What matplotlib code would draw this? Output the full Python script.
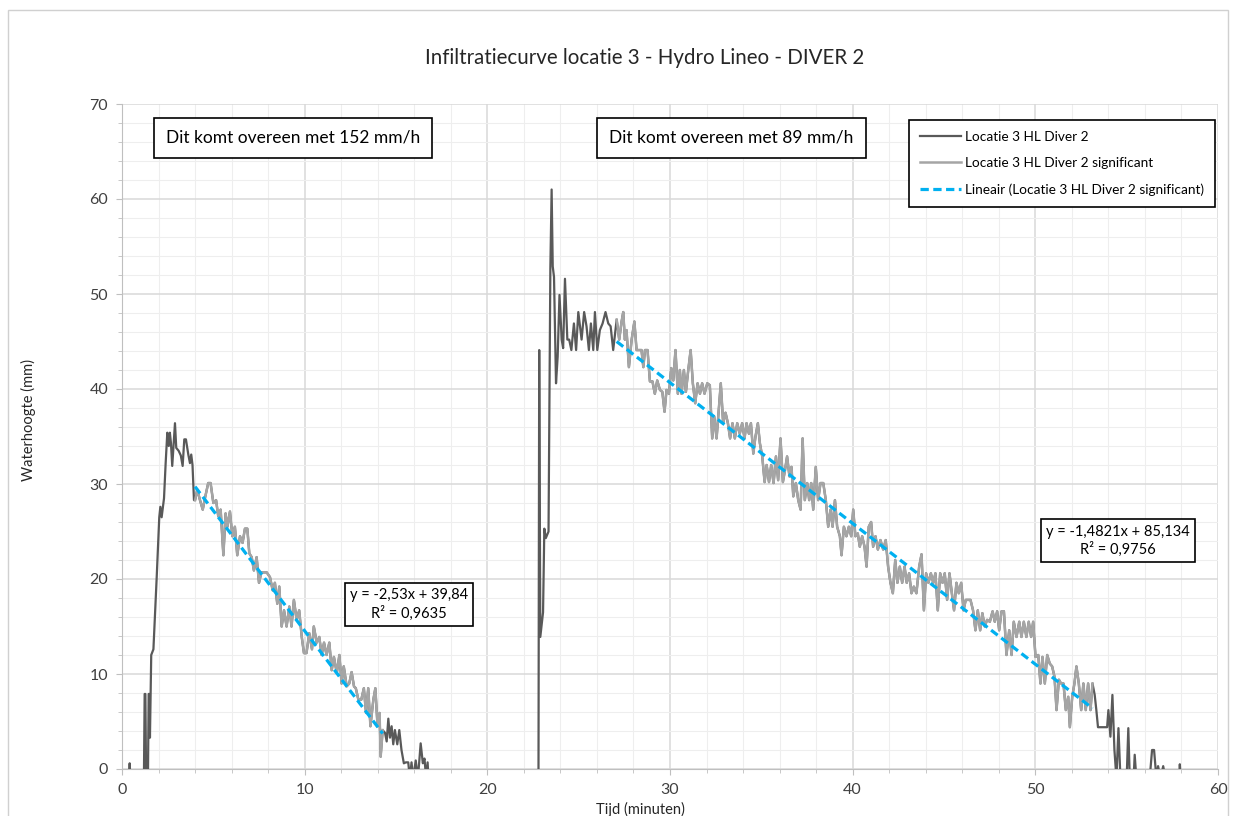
import numpy as np
import matplotlib
matplotlib.use("Agg")
import matplotlib.pyplot as plt
import matplotlib.patches as mpatches
from matplotlib.ticker import MultipleLocator

plt.rcParams["font.family"] = ["Lato", "DejaVu Sans"]

# ── Data ──────────────────────────────────────────────────────
# values below the axis (-1) are clipped, just like in the original chart
# first event: rise before the "significant" part
rise1_x = [0.0, 0.38, 0.42, 0.46, 1.2, 1.24, 1.28, 1.32, 1.42, 1.46, 1.5, 1.53, 1.6, 1.72, 1.9,
           2.04, 2.1, 2.17, 2.3, 2.39, 2.48, 2.56, 2.62, 2.68, 2.75, 2.9, 2.97, 3.1, 3.22, 3.32,
           3.41, 3.5, 3.63, 3.72, 3.79, 3.86, 3.94]
rise1_y = [-1.0, -1.0, 0.6, -1.0, -1.0, 7.9, 7.9, -1.0, -1.0, 7.9, 7.9, 3.3, 12.0, 12.6, 20.2,
           26.5, 27.6, 26.5, 28.5, 32.2, 35.4, 34.0, 35.4, 34.3, 31.9, 36.4, 33.8, 33.5, 33.0, 31.9,
           34.7, 34.7, 33.1, 32.2, 33.1, 32.0, 28.3]

sig1_x = [4.0, 4.12, 4.27, 4.42, 4.54, 4.72, 4.85, 5.0, 5.15, 5.27, 5.4, 5.55, 5.67, 5.77, 5.91,
          6.04, 6.18, 6.31, 6.46, 6.6, 6.73, 6.86, 6.97, 7.1, 7.22, 7.37, 7.5, 7.63, 7.92, 8.1,
          8.25, 8.37, 8.5, 8.61, 8.74, 8.87, 9.01, 9.16, 9.28, 9.41, 9.56, 9.7, 9.84, 9.96, 10.1,
          10.25, 10.4, 10.5, 10.66, 10.8, 10.93, 11.06, 11.2, 11.35, 11.48, 11.6, 11.76, 11.9,
          12.02, 12.14, 12.3, 12.44, 12.57, 12.7, 12.8, 12.94, 13.1, 13.24, 13.36, 13.48, 13.6,
          13.76, 13.87, 13.99, 14.1, 14.16, 14.27]
sig1_y = [28.3, 29.4, 28.3, 27.3, 28.5, 30.1, 30.1, 28.0, 28.3, 26.6, 27.3, 22.5, 26.9, 25.5, 27.1,
          24.5, 25.5, 22.5, 24.5, 23.8, 25.3, 25.3, 22.7, 22.3, 20.9, 22.3, 19.6, 20.7, 20.7, 20.2,
          18.8, 19.6, 17.4, 19.2, 15.0, 16.7, 15.0, 17.1, 15.0, 17.8, 15.7, 16.7, 13.9, 12.2, 12.2,
          14.3, 12.6, 15.0, 13.3, 13.9, 12.0, 13.3, 12.0, 13.3, 10.4, 11.8, 10.1, 12.0,
          9.0, 10.8, 8.7, 9.0, 10.2, 8.7, 8.5, 7.3, 7.3, 8.5, 5.9, 8.5, 4.5,
          7.3, 8.5, 4.5, 5.9, 1.3, 4.1]

tail1_x = [14.4, 14.49, 14.58, 14.67, 14.76, 14.85, 14.94, 15.07, 15.18, 15.3, 15.43, 15.54, 15.67,
           15.76, 15.85, 15.94, 16.08, 16.2, 16.35, 16.47, 16.56, 16.65, 16.73, 16.78, 22.75]
tail1_y = [3.8, 2.9, 5.3, 3.3, 4.5, 2.6, 4.1, 2.6, 4.1, 2.0, 0.6, 0.7, 0.7,
           -1.0, 0.7, -1.0, 0.9, -1.0, 2.7, 0.6, 1.1, -1.0, 0.7, -1.0, -1.0]

# second event
rise2_x = [22.8, 22.84, 22.9, 23.05, 23.12, 23.2, 23.35, 23.45, 23.52, 23.58, 23.65, 23.76, 23.85,
           23.95, 24.07, 24.15, 24.25, 24.38, 24.48, 24.6, 24.74, 24.86, 24.98, 25.16, 25.3, 25.43,
           25.56, 25.67, 25.8, 25.89, 26.02, 26.16, 26.31, 26.47, 26.62, 26.75, 26.89]
rise2_y = [-1.0, 44.1, 13.9, 16.5, 25.3, 24.3, 25.0, 52.7, 61.0, 52.9, 51.8, 40.6, 43.4,
           49.9, 45.2, 44.3, 51.6, 45.2, 45.2, 44.1, 46.9, 44.1, 48.1, 45.2, 48.1, 46.6,
           44.1, 46.9, 44.1, 48.1, 44.1, 46.2, 46.9, 48.1, 46.9, 46.6, 44.1]

sig2_x = [27.08, 27.22, 27.35, 27.44, 27.53, 27.62, 27.75, 27.9, 28.05, 28.17, 28.32, 28.44, 28.54,
          28.63, 28.77, 28.9, 29.04, 29.17, 29.3, 29.45, 29.58, 29.7, 29.81, 29.94, 30.07, 30.18,
          30.3, 30.43, 30.54, 30.63, 30.76, 30.87, 31.0, 31.13, 31.25, 31.38, 31.51, 31.64, 31.76,
          31.89, 32.04, 32.18, 32.31, 32.42, 32.55, 32.67, 32.78, 32.91, 33.04, 33.17, 33.29, 33.42,
          33.55, 33.68, 33.82, 33.95, 34.08, 34.19, 34.32, 34.43, 34.56, 34.68, 34.81, 34.92, 35.05,
          35.18, 35.29, 35.42, 35.54, 35.67, 35.8, 35.92, 36.05, 36.18, 36.29, 36.41, 36.54,
          36.65, 36.75, 36.89, 37.02, 37.15, 37.26, 37.38, 37.51, 37.62, 37.73, 37.84, 37.98, 38.11,
          38.24, 38.39, 38.53, 38.66, 38.79, 38.9, 39.03, 39.15, 39.3, 39.39, 39.52, 39.66, 39.79,
          39.92, 40.03, 40.15, 40.28, 40.39, 40.52, 40.65, 40.76, 40.88, 41.01, 41.12, 41.25, 41.38,
          41.52, 41.67, 41.81, 41.94, 42.07, 42.2, 42.33, 42.45, 42.58, 42.71, 42.84, 42.96, 43.09,
          43.22, 43.35, 43.49, 43.64, 43.77, 43.9, 44.02, 44.15, 44.28, 44.41, 44.53, 44.66, 44.79,
          44.92, 45.04, 45.17, 45.3, 45.43, 45.55, 45.68, 45.81, 45.94, 46.07, 46.19, 46.32, 46.45,
          46.59, 46.72, 46.85, 46.98, 47.1, 47.23, 47.36,
          47.51, 47.66, 47.78, 47.91, 48.02, 48.15, 48.28, 48.42, 48.57, 48.7, 48.82, 48.97, 49.12,
          49.24, 49.37, 49.51, 49.64, 49.77, 49.88, 50.01, 50.16, 50.28, 50.39, 50.52, 50.65, 50.79,
          50.92, 51.05, 51.16, 51.29, 51.41, 51.54, 51.67, 51.8, 51.89, 52.02, 52.14, 52.25, 52.38,
          52.51, 52.63, 52.76, 52.89, 53.02, 53.13]
sig2_y = [47.3, 45.2, 47.1, 48.1, 45.2, 46.2, 42.3, 45.2, 47.1, 44.1, 44.1, 44.1, 42.3,
          44.1, 44.1, 40.8, 40.8, 39.5, 40.9, 39.9, 39.7, 37.6, 39.9, 39.5, 42.2, 40.9,
          44.1, 39.5, 42.0, 39.5, 42.0, 39.7, 42.0, 44.1, 40.6, 38.5, 40.6, 39.5, 40.6,
          39.5, 40.6, 40.4, 34.8, 37.1, 34.8, 37.8, 40.6, 36.4, 37.5, 36.4, 34.8, 36.4,
          34.8, 36.4, 35.3, 36.4, 34.8, 36.4, 35.3, 36.4, 33.2, 35.0, 36.4, 34.3, 32.9,
          30.2, 32.0, 30.2, 32.0, 30.1, 32.9, 30.4, 34.8, 30.2, 31.4, 32.9, 30.8,
          31.8, 28.7, 30.1, 28.3, 27.3, 34.8, 28.3, 30.1, 28.3, 30.1, 27.3, 31.8, 28.3,
          30.1, 30.1, 28.3, 25.5, 27.3, 25.5, 28.3, 25.5, 24.5, 22.5, 25.5, 24.5, 25.5,
          24.5, 27.3, 24.5, 24.8, 23.4, 24.5, 23.4, 21.3, 25.5, 26.0, 23.4, 24.5, 23.1,
          24.1, 23.1, 24.1, 21.3, 19.6, 18.5, 22.0, 19.6, 21.3, 19.6, 21.3, 19.6, 20.6,
          18.5, 19.2, 18.5, 21.3, 22.6, 16.7, 20.6, 19.6, 20.6, 19.6, 20.6, 16.7, 20.6,
          19.6, 20.6, 17.8, 20.6, 18.5, 16.7, 19.6, 18.5, 19.6, 16.7, 17.8, 17.8, 17.8,
          16.7, 14.6, 16.7, 14.6, 16.4, 15.0, 15.7,
          15.5, 16.6, 15.5, 16.6, 14.6, 16.6, 16.6, 12.0, 14.6, 12.0, 15.5, 13.9, 15.5,
          13.9, 15.5, 13.9, 15.5, 13.9, 15.5, 11.8, 12.0, 9.0, 11.8, 9.0, 12.0, 11.1,
          10.8, 9.7, 6.2, 9.4, 9.0, 9.0, 6.2, 7.6, 4.4, 7.6, 9.0, 10.8, 9.0,
          6.2, 9.0, 6.2, 9.0, 6.2, 9.0]

tail2_x = [53.25, 53.34, 53.43, 53.7, 53.93, 54.0, 54.11, 54.22, 54.33, 54.44, 54.55, 54.66, 55.0,
           55.09, 55.17, 55.38, 55.44, 55.53, 56.26, 56.39, 56.5, 56.63, 56.72, 56.85, 57.0, 57.12,
           57.87, 57.91, 57.96]
tail2_y = [7.8, 6.2, 4.4, 4.4, 4.4, 6.2, 3.4, 7.8, 2.0, -1.0, 4.3, -1.0, -1.0,
           4.3, -1.0, -1.0, 1.5, -1.0, -1.0, 2.0, 2.0, -1.0, 0.3, -1.0, 0.3, -1.0,
           -1.0, 0.5, -1.0]

# linear trendlines as printed on the chart: (slope, intercept)
trend1 = (-2.53, 39.84)
trend2 = (-1.4821, 85.134)
eq1_text = "y = -2,53x + 39,84\nR² = 0,9635"
eq2_text = "y = -1,4821x + 85,134\nR² = 0,9756"

# full diver series = all pieces in order
diver_x = rise1_x + sig1_x + tail1_x + rise2_x + sig2_x + tail2_x
diver_y = rise1_y + sig1_y + tail1_y + rise2_y + sig2_y + tail2_y

DARK = "#595959"
LIGHT = "#a5a5a5"
BLUE = "#00b0f0"

# ── Figure ────────────────────────────────────────────────────
fig = plt.figure(figsize=(12.36, 8.16), dpi=100)
ax = fig.add_axes([122 / 1236, 1 - 769 / 816, (1218 - 122) / 1236, (769 - 104) / 816])

ax.plot(diver_x, diver_y, color=DARK, lw=1.6, label="Locatie 3 HL Diver 2", zorder=3)
ax.plot(sig1_x, sig1_y, color=LIGHT, lw=1.8, label="Locatie 3 HL Diver 2 significant", zorder=4)
ax.plot(sig2_x, sig2_y, color=LIGHT, lw=1.8, zorder=4)

for (a, b), xs in ((trend1, sig1_x), (trend2, sig2_x)):
    tx = np.array([xs[0], xs[-1]])
    ax.plot(tx, a * tx + b, color=BLUE, lw=2.3, ls=(0, (2.6, 1.4)), zorder=5,
            label="Lineair (Locatie 3 HL Diver 2 significant)" if xs is sig1_x else None)

ax.set_xlim(0, 60)
ax.set_ylim(0, 70)
ax.xaxis.set_major_locator(MultipleLocator(10))
ax.xaxis.set_minor_locator(MultipleLocator(2))
ax.yaxis.set_major_locator(MultipleLocator(10))
ax.yaxis.set_minor_locator(MultipleLocator(2))
ax.grid(which="major", color="#d9d9d9", lw=1.1)
ax.grid(which="minor", color="#eeeeee", lw=0.8)
ax.set_axisbelow(True)
for s in ("top", "right"):
    ax.spines[s].set_visible(False)
for s in ("left", "bottom"):
    ax.spines[s].set_color("#bfbfbf")
ax.tick_params(which="both", direction="out", color="#bfbfbf", length=4,
               labelsize=11.5, labelcolor="#404040", pad=6)
ax.tick_params(which="minor", length=3)

fig.text(645 / 1236, 1 - 58 / 816, "Infiltratiecurve locatie 3 - Hydro Lineo - DIVER 2",
         ha="center", va="center", fontsize=14.8, color="#262626")
fig.text(28 / 1236, 1 - 420 / 816, "Waterhoogte (mm)", rotation=90,
         ha="center", va="center", fontsize=10.5, color="#262626")
fig.text(640 / 1236, 1 - 809 / 816, "Tijd (minuten)", ha="center", va="center",
         fontsize=10.5, color="#262626")

box = dict(boxstyle="square,pad=0.7", fc="white", ec="black", lw=1.2)
ax.text(0.156, 0.949, "Dit komt overeen met 152 mm/h", transform=ax.transAxes,
        ha="center", va="center", fontsize=12.5, bbox=box, zorder=6)
ax.text(0.556, 0.949, "Dit komt overeen met 89 mm/h", transform=ax.transAxes,
        ha="center", va="center", fontsize=12.5, bbox=box, zorder=6)

eqbox = dict(boxstyle="square,pad=0.35", fc="white", ec="black", lw=1.2)
ax.text(0.262, 0.247, eq1_text, transform=ax.transAxes, ha="center", va="center",
        fontsize=10.5, linespacing=1.3, bbox=eqbox, zorder=6)
ax.text(0.909, 0.343, eq2_text, transform=ax.transAxes, ha="center", va="center",
        fontsize=10.5, linespacing=1.3, bbox=eqbox, zorder=6)

leg = ax.legend(loc="upper right", bbox_to_anchor=(0.997, 0.976), borderaxespad=0,
                fontsize=9.8, frameon=True, fancybox=False, framealpha=1,
                edgecolor="black", handlelength=3.0, labelspacing=1.05,
                borderpad=0.8, handletextpad=0.3)
leg.get_frame().set_linewidth(1.2)
leg.set_zorder(7)

# outer chart border
fig.patches.append(mpatches.Rectangle((8 / 1236, -0.05), (1228 - 8) / 1236, 1 - 10 / 816 + 0.05,
                                      transform=fig.transFigure, fill=False,
                                      ec="#d0d0d0", lw=1))

fig.savefig("out.png", dpi=100)
